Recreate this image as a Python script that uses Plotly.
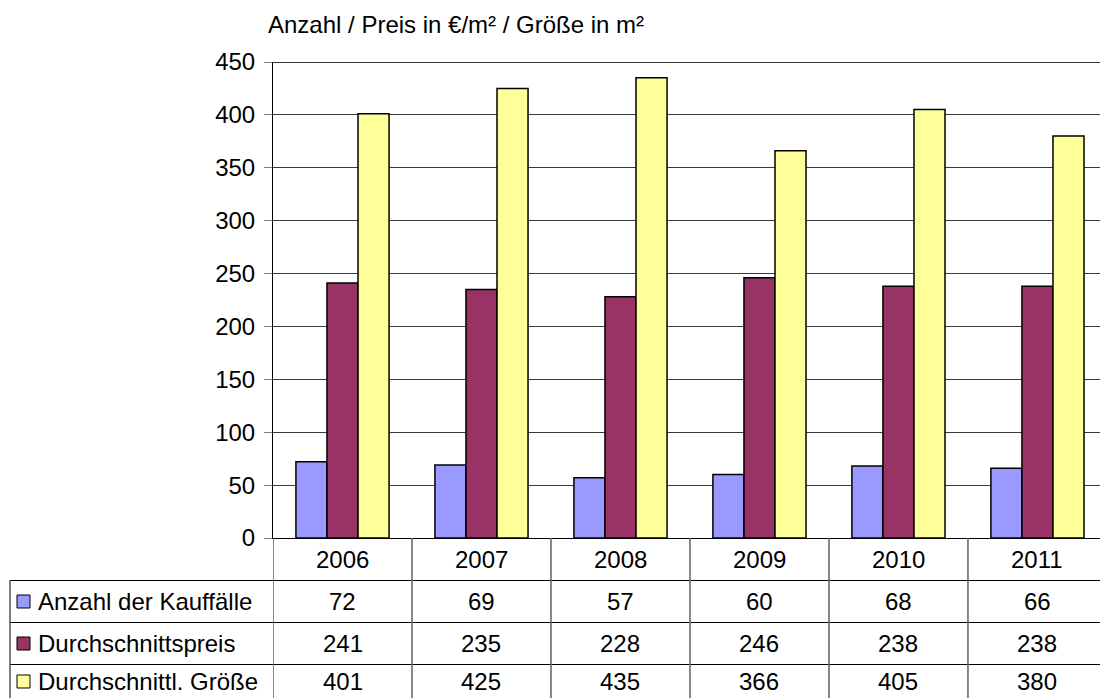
import plotly.graph_objects as go

# Chart data
years = ["2006", "2007", "2008", "2009", "2010", "2011"]
anzahl = [72, 69, 57, 60, 68, 66]
preis = [241, 235, 228, 246, 238, 238]
groesse = [401, 425, 435, 366, 405, 380]

series_names = ["Anzahl der Kauffälle", "Durchschnittspreis", "Durchschnittl. Größe"]
series_values = [anzahl, preis, groesse]
series_colors = ["#9999FF", "#993366", "#FFFF99"]

title_text = "Anzahl / Preis in €/m² / Größe in m²"

W, H = 1100, 698
L, R, T, B = 273, 0, 62, 160
PLOT_W = W - L - R
PLOT_H = H - T - B
X_RANGE = [-0.5, 5.45]
FONT = "Liberation Sans, Arial, sans-serif"
FS = 24


def py(p):
    """pixel y -> paper y"""
    return (H - B - p) / PLOT_H


def px(p):
    """pixel x -> paper x"""
    return (p - L) / PLOT_W


fig = go.Figure()
for name, vals, col in zip(series_names, series_values, series_colors):
    fig.add_trace(go.Bar(
        x=list(range(len(years))), y=vals, name=name,
        marker=dict(color=col, line=dict(color="black", width=1.5)),
        hoverinfo="y",
    ))

shapes = []
annotations = []

# top border of plot area
shapes.append(dict(type="line", xref="x", yref="y", x0=X_RANGE[0], x1=X_RANGE[1],
                   y0=450, y1=450, line=dict(color="#333333", width=2)))

# data table below the chart
row_lines = [580, 622, 664]
row_centers = [601, 643, 681]
table_bottom = 698
for i, yl in enumerate(row_lines):
    shapes.append(dict(type="line", xref="paper", yref="paper",
                       x0=px(10), x1=1, y0=py(yl + 0.5), y1=py(yl + 0.5),
                       line=dict(color="black", width=1)))
# left border of label column
shapes.append(dict(type="line", xref="paper", yref="paper",
                   x0=px(10), x1=px(10), y0=py(580), y1=py(table_bottom),
                   line=dict(color="#555555", width=1.5)))
# column separators at category boundaries
for k in range(len(years)):
    xb = k - 0.5
    shapes.append(dict(type="line", xref="x", yref="paper",
                       x0=xb, x1=xb, y0=0, y1=py(table_bottom),
                       line=dict(color="#6a6a6a", width=1.6)))

# year header cells
for i, yr in enumerate(years):
    annotations.append(dict(x=i, y=py(559), xref="x", yref="paper", text=yr,
                            showarrow=False, xanchor="center", yanchor="middle",
                            font=dict(family=FONT, size=FS, color="black")))

# series rows: legend key, label, values
for r, (name, vals, col) in enumerate(zip(series_names, series_values, series_colors)):
    yc = row_centers[r]
    shapes.append(dict(type="rect", xref="paper", yref="paper",
                       x0=px(17), x1=px(30), y0=py(yc + 7), y1=py(yc - 6),
                       fillcolor=col, line=dict(color="black", width=1)))
    annotations.append(dict(x=px(36), y=py(yc), xref="paper", yref="paper", text=name,
                            showarrow=False, xanchor="left", yanchor="middle",
                            font=dict(family=FONT, size=FS, color="black")))
    for i, v in enumerate(vals):
        annotations.append(dict(x=i, y=py(yc), xref="x", yref="paper", text=str(v),
                                showarrow=False, xanchor="center", yanchor="middle",
                                font=dict(family=FONT, size=FS, color="black")))

# axis title above the plot
annotations.append(dict(x=px(266), y=py(24), xref="paper", yref="paper", text=title_text,
                        showarrow=False, xanchor="left", yanchor="middle",
                        font=dict(family=FONT, size=FS, color="black")))

fig.update_layout(
    width=W, height=H,
    margin=dict(l=L, r=R, t=T, b=B, pad=0),
    paper_bgcolor="white", plot_bgcolor="white",
    barmode="group", bargap=0.33, bargroupgap=0,
    showlegend=False,
    font=dict(family=FONT, size=FS, color="black"),
    shapes=shapes, annotations=annotations,
    xaxis=dict(range=X_RANGE, showticklabels=False, ticks="", showgrid=False,
               zeroline=False, showline=True, linecolor="black", linewidth=1,
               fixedrange=True),
    yaxis=dict(range=[0, 450], dtick=50, tick0=0, showgrid=True, gridcolor="#3a3a3a",
               gridwidth=1, zeroline=False, showline=True, linecolor="black",
               linewidth=1, ticks="outside", ticklen=8, tickcolor="#808080",
               tickfont=dict(family=FONT, size=FS, color="black"),
               ticklabelstandoff=4, fixedrange=True),
)

fig.write_html("out.html", config={"displayModeBar": False})
